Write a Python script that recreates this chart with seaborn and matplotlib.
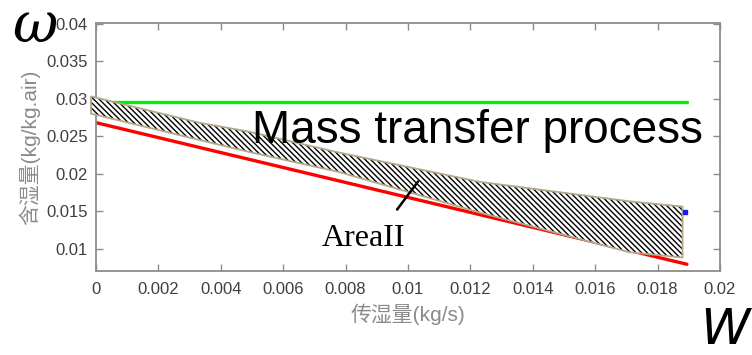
import numpy as np
import pandas as pd
import matplotlib
matplotlib.use('Agg')
import matplotlib.pyplot as plt
import seaborn as sns

#  data 
line_x      = [0.0, 0.01894]
green_y     = [0.0296, 0.0296]
red_y       = [0.0268, 0.0079]

band_x      = [-0.00016, 0.0033, 0.0049, 0.0078, 0.0123, 0.0171, 0.0188]
band_top    = [0.0303, 0.0268, 0.0256, 0.0228, 0.0189, 0.0163, 0.0156]
band_bottom = [0.0280, 0.0245, 0.0229, 0.0202, 0.0148, 0.0095, 0.0088]

blue_x, blue_y = [0.01888], [0.0149]

x_ticks  = [0, 0.002, 0.004, 0.006, 0.008, 0.01, 0.012, 0.014, 0.016, 0.018, 0.02]
x_labels = ['0', '0.002', '0.004', '0.006', '0.008', '0.01', '0.012', '0.014', '0.016', '0.018', '0.02']
y_ticks  = [0.01, 0.015, 0.02, 0.025, 0.03, 0.035, 0.04]
y_labels = ['0.01', '0.015', '0.02', '0.025', '0.03', '0.035', '0.04']

x_title = '传湿量(kg/s)'
y_title = '含湿量(kg/kg.air)'

#  style 
sns.set_theme(style='white')
plt.rcParams['font.family'] = ['Liberation Sans', 'Noto Sans CJK SC', 'DejaVu Sans']
plt.rcParams['hatch.linewidth'] = 1.0

frame_col = '#8c8c8c'
tick_col  = '#3f3f3f'

fig = plt.figure(figsize=(7.52, 3.55), dpi=100)
ax = fig.add_axes([96 / 752, 1 - 271 / 355, 624 / 752, 248 / 355])

#  lines 
sns.lineplot(x=line_x, y=green_y, color='#00ee00', linewidth=2.4, ax=ax, zorder=2)
sns.lineplot(x=line_x, y=red_y, color='#ff0000', linewidth=2.4, ax=ax, zorder=2)

# hatched band: hatch first, tan outline on top
ax.fill_between(band_x, band_bottom, band_top, facecolor='white', hatch='\\' * 6,
                edgecolor='black', linewidth=0, zorder=3, clip_on=False)
ax.fill_between(band_x, band_bottom, band_top, facecolor='none',
                edgecolor='#b3a988', linewidth=1.3, zorder=4, clip_on=False)

ax.plot(blue_x, blue_y, 's', color='#1a1aff', markersize=2.5, zorder=5)

#  texts 
ax.text(0.01224, 0.0241, 'Mass transfer process', fontsize=33, color='black',
        ha='center', va='baseline', zorder=6)
ax.text(0.00856, 0.0103, 'AreaII', fontsize=23, family='Liberation Serif',
        color='black', ha='center', va='baseline', zorder=6)
ax.plot([0.00965, 0.01032], [0.0152, 0.01893], color='black', linewidth=1.8, zorder=6)

#  axes 
ax.set_xlim(0, 0.02)
ax.set_ylim(0.007, 0.0401)
ax.set_xticks(x_ticks)
ax.set_xticklabels(x_labels)
ax.set_yticks(y_ticks)
ax.set_yticklabels(y_labels)
ax.tick_params(direction='in', length=5, width=1, color=frame_col, labelcolor=tick_col,
               labelsize=12, top=True, right=True, bottom=True, left=True)
ax.tick_params(axis='x', pad=8)
ax.tick_params(axis='y', pad=6)
for s in ax.spines.values():
    s.set_color(frame_col)
    s.set_linewidth(1.3)
    s.set_visible(True)

ax.set_xlabel(x_title, fontsize=15, color='#8a8a8a', labelpad=5)
ax.set_ylabel(y_title, fontsize=15, color='#8a8a8a', labelpad=4)

# hand-written symbols outside the axes
fig.text(12 / 752, 1 - 42 / 355, 'ω', fontsize=40, family='DejaVu Serif',
         style='italic', color='black', ha='left', va='baseline')
fig.text(700 / 752, 1 / 355, 'W', fontsize=36, family='DejaVu Sans',
         style='italic', weight='ultralight', color='black', ha='left', va='bottom')

fig.savefig('out.png', dpi=100)
